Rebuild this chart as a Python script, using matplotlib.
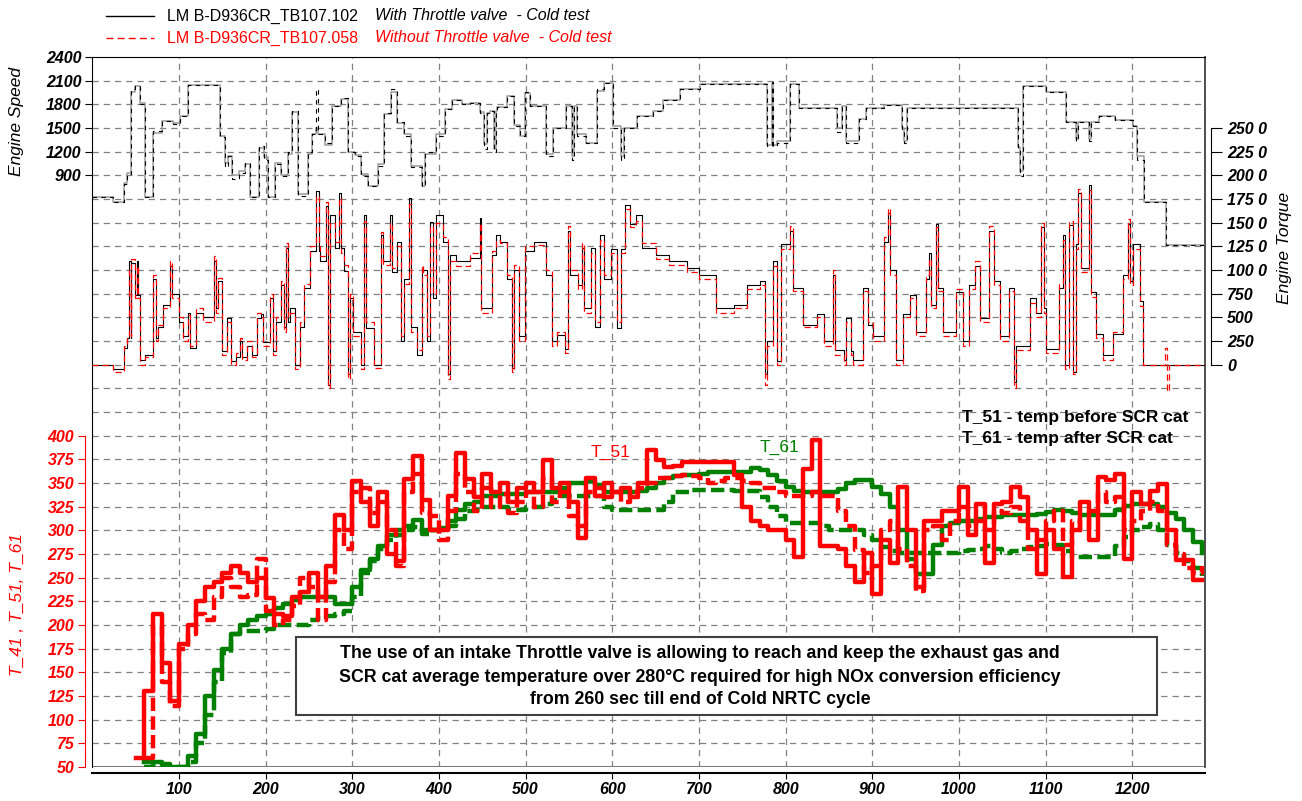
import matplotlib
matplotlib.use('Agg')
import matplotlib.pyplot as plt
import numpy as np
from matplotlib.patches import Rectangle

plt.rcParams['font.family'] = ['Liberation Sans', 'DejaVu Sans']

nan = np.nan

# ---- temperatures, one value every 10 s (0 .. 1280 s) ----
temp_t = list(range(0, 1281, 10))

t51_with = [nan, nan, nan, nan, nan, 60, 130, 212, 160, 120,
            180, 200, 225, 240, 245, 255, 262, 255, 245, 250,
            228, 212, 210, 230, 235, 255, 230, 262, 316, 300,
            352, 330, 305, 340, 275, 268, 354, 378, 332, 300,
            300, 336, 382, 354, 335, 360, 340, 350, 330, 345,
            350, 340, 374, 345, 350, 330, 292, 355, 336, 350,
            340, 345, 335, 350, 385, 374, 367, 368, 372, 372,
            372, 372, 372, 372, 358, 325, 310, 305, 300, 300,
            290, 272, 365, 395, 283, 283, 280, 262, 245, 276,
            233, 290, 265, 346, 300, 240, 310, 310, 320, 320,
            346, 295, 328, 265, 328, 330, 346, 335, 300, 254,
            300, 280, 251, 300, 330, 290, 356, 353, 360, 270,
            340, 328, 342, 349, 300, 269, 269, 248, 248]

t51_without = [nan, nan, nan, nan, nan, nan, 60, 200, 140, 114,
               175, 190, 212, 205, 230, 250, 240, 230, 232, 270,
               215, 200, 205, 220, 250, 240, 205, 245, 300, 280,
               340, 345, 318, 330, 300, 262, 340, 360, 318, 315,
               290, 320, 360, 340, 320, 345, 325, 338, 318, 330,
               340, 325, 355, 330, 340, 315, 305, 340, 345, 335,
               340, 330, 340, 345, 350, 355, 355, 357, 358, 357,
               355, 350, 352, 355, 355, 352, 350, 345, 345, 340,
               336, 336, 336, 340, 336, 336, 320, 305, 279, 255,
               262, 300, 310, 280, 262, 236, 300, 305, 290, 310,
               325, 305, 310, 300, 320, 318, 325, 310, 280, 290,
               310, 320, 285, 310, 300, 320, 340, 330, 335, 300,
               310, 320, 330, 320, 285, 275, 260, 255, 262]

t61_with = [nan, nan, nan, nan, nan, nan, 55, 55, 53, 50,
            50, 62, 85, 125, 152, 175, 190, 200, 205, 210,
            212, 218, 222, 226, 230, 230, 230, 230, 222, 222,
            240, 258, 270, 283, 295, 300, 305, 311, 300, 300,
            302, 310, 322, 328, 330, 336, 336, 338, 338, 338,
            340, 340, 340, 340, 345, 350, 350, 352, 348, 340,
            340, 340, 340, 342, 345, 350, 355, 357, 358, 358,
            360, 362, 362, 362, 362, 362, 366, 364, 358, 352,
            346, 342, 340, 340, 340, 340, 344, 350, 353, 353,
            346, 338, 325, 300, 270, 254, 254, 285, 305, 308,
            310, 310, 312, 314, 314, 316, 316, 316, 316, 317,
            319, 321, 320, 318, 316, 316, 316, 316, 321, 326,
            328, 328, 328, 325, 318, 312, 300, 288, 276]

t61_without = [nan, nan, nan, nan, nan, nan, 50, 52, 50, 50,
               50, 55, 75, 105, 140, 170, 190, 194, 194, 194,
               196, 200, 200, 200, 200, 205, 210, 210, 212, 215,
               230, 255, 268, 280, 290, 295, 300, 303, 296, 300,
               300, 305, 312, 320, 322, 325, 325, 325, 322, 322,
               325, 325, 328, 332, 336, 336, 336, 336, 336, 325,
               322, 322, 322, 322, 322, 322, 330, 340, 340, 343,
               343, 343, 343, 343, 342, 342, 342, 335, 325, 315,
               308, 308, 308, 308, 305, 300, 300, 300, 300, 295,
               290, 282, 278, 276, 276, 276, 276, 276, 276, 276,
               278, 279, 280, 283, 280, 276, 278, 280, 282, 283,
               286, 284, 278, 272, 272, 272, 272, 272, 283, 293,
               300, 303, 307, 300, 285, 276, 268, 260, 252]

# ---- engine speed, change points ----
speed_t = [0, 24, 36, 40, 45, 49, 55, 61, 70, 80,
           93, 101, 110, 147, 153, 157, 161, 169, 176, 182,
           192, 198, 203, 211, 218, 226, 230, 237, 249, 253,
           258, 260, 268, 276, 287, 295, 303, 310, 318, 330,
           337, 345, 352, 360, 368, 380, 384, 396, 407, 415,
           426, 436, 447, 452, 455, 459, 463, 466, 467, 478,
           486, 493, 499, 505, 524, 532, 547, 553, 556, 559,
           570, 582, 590, 601, 610, 613, 628, 647, 659, 678,
           701, 778, 784, 786, 790, 805, 816, 859, 865, 870,
           885, 893, 913, 934, 937, 940, 1068, 1071, 1074, 1100,
           1124, 1135, 1138, 1150, 1153, 1162, 1180, 1201, 1205, 1214,
           1239, 1284]

speed_with = [620, 560, 790, 915, 1990, 2030, 1800, 620, 1460, 1590,
              1550, 1650, 2040, 1380, 1000, 1150, 850, 930, 1060, 620,
              1270, 1100, 620, 1040, 890, 1190, 1715, 640, 1190, 1420,
              1990, 1420, 1310, 1780, 1885, 1190, 1145, 890, 765, 1020,
              1695, 1990, 1570, 1400, 1000, 765, 1190, 1400, 1740, 1860,
              1800, 1820, 1695, 1230, 1695, 1715, 1190, 1715, 1760, 1905,
              1525, 1400, 1950, 1780, 1145, 1505, 1780, 1100, 1780, 1400,
              1314, 1990, 2075, 1505, 1100, 1505, 1650, 1715, 1860, 1990,
              2055, 1270, 2080, 1270, 1314, 2055, 1750, 1450, 1780, 1314,
              1610, 1750, 1790, 1480, 1314, 1750, 1230, 890, 2030, 1950,
              1570, 1335, 1570, 1335, 1570, 1650, 1600, 1525, 1100, 560,
              20, 20]

speed_without = [620, 560, 800, 930, 1960, 2030, 1820, 620, 1440, 1590,
                 1560, 1650, 2040, 1400, 1060, 1150, 900, 950, 1040, 620,
                 1250, 1130, 620, 1060, 900, 1170, 1700, 660, 1170, 1420,
                 1500, 1420, 1290, 1780, 1870, 1200, 1160, 920, 765, 1040,
                 1680, 1960, 1560, 1420, 1020, 765, 1170, 1420, 1740, 1860,
                 1800, 1820, 1700, 1300, 1695, 1715, 1230, 1715, 1760, 1900,
                 1540, 1400, 1940, 1780, 1170, 1505, 1780, 1150, 1780, 1420,
                 1314, 1970, 2075, 1520, 1150, 1505, 1650, 1715, 1860, 1990,
                 2055, 1290, 2055, 1290, 1330, 2055, 1750, 1500, 1780, 1330,
                 1610, 1750, 1790, 1500, 1330, 1750, 1260, 950, 2030, 1950,
                 1570, 1360, 1570, 1360, 1570, 1650, 1600, 1525, 1150, 560,
                 20, 20]

# ---- engine torque, change points ----
torque_t = [0, 24, 36, 40, 42, 44, 45, 49, 52, 53,
            55, 61, 70, 73, 76, 82, 90, 92, 100, 105,
            110, 113, 120, 128, 140, 143, 145, 150, 155, 160,
            166, 170, 173, 178, 184, 190, 194, 197, 205, 208,
            212, 218, 221, 224, 226, 228, 234, 240, 244, 251,
            258, 261, 263, 270, 272, 274, 280, 285, 287, 290,
            295, 297, 301, 310, 314, 316, 325, 333, 335, 343,
            346, 351, 356, 360, 365, 368, 375, 380, 382, 386,
            390, 393, 397, 405, 410, 413, 420, 436, 447, 449,
            461, 466, 470, 478, 484, 486, 492, 499, 510, 524,
            530, 536, 545, 549, 551, 560, 565, 567, 575, 580,
            586, 590, 599, 605, 610, 615, 620, 627, 634, 650,
            665, 686, 700, 720, 740, 755, 771, 776, 778, 786,
            790, 795, 805, 809, 820, 836, 844, 855, 857, 867,
            870, 875, 878, 889, 895, 901, 913, 918, 920, 927,
            935, 943, 951, 962, 965, 968, 974, 976, 982, 997,
            1005, 1012, 1018, 1024, 1035, 1040, 1047, 1058, 1064, 1066,
            1082, 1089, 1095, 1098, 1101, 1116, 1120, 1123, 1127, 1132,
            1135, 1138, 1141, 1150, 1152, 1158, 1166, 1178, 1189, 1195,
            1198, 1201, 1209, 1212, 1238, 1240, 1242, 1284]

torque_with = [0, -5, 18, 28, 109, 28, 107, 74, 109, 74,
               5, 10, 90, 28, 40, 63, 104, 75, 45, 30,
               55, 18, 55, 50, 109, 60, 88, 14, 49, 4,
               8, 25, 8, 20, 10, 49, 53, 24, 70, 14,
               45, 84, 40, 123, 45, 60, 0, 40, 81, 120,
               183, 120, 109, 168, -21, 158, 123, 181, 123, 99,
               -10, 70, 35, 0, 158, 39, 0, 137, 110, 158,
               98, 130, 25, 90, 176, 40, 10, 98, 100, 25,
               151, 70, 158, 130, -10, 116, 109, 113, 155, 60,
               116, 137, 130, 91, -3, 100, 30, 120, 130, 95,
               25, 31, 17, 141, 95, 84, 123, 60, 123, 40,
               137, 90, 122, 39, 122, 169, 149, 158, 123, 116,
               109, 102, 95, 60, 63, 84, 88, -10, 25, 109,
               4, 127, 141, 81, 42, 53, 25, 95, 15, 5,
               49, 14, 5, 81, 42, 30, 130, 160, 100, 5,
               53, 74, 35, 91, 118, 63, 149, 81, 35, 77,
               25, 84, 104, 49, 141, 88, 30, 81, -18, 20,
               70, 55, 145, 60, 17, 81, 137, 0, 148, -8,
               127, 181, 102, 190, 77, 32, 10, 32, 95, 149,
               88, 127, 67, 0, 0, 0, 0, 0]

torque_without = [0, -8, 20, 30, 100, 30, 112, 70, 104, 70,
                  0, 8, 95, 25, 42, 60, 110, 70, 50, 25,
                  52, 20, 60, 45, 115, 55, 92, 10, 45, 0,
                  12, 28, 5, 25, 8, 55, 50, 20, 75, 10,
                  50, 88, 35, 128, 50, 55, -5, 45, 85, 125,
                  178, 125, 115, 172, -25, 150, 130, 176, 118, 105,
                  -15, 75, 30, -5, 152, 45, -3, 140, 105, 150,
                  102, 125, 30, 85, 170, 35, 15, 105, 95, 30,
                  146, 75, 150, 135, -15, 110, 104, 118, 150, 55,
                  120, 132, 128, 95, -8, 105, 25, 125, 126, 100,
                  20, 35, 12, 146, 100, 80, 128, 55, 118, 45,
                  132, 95, 118, 45, 118, 164, 145, 152, 128, 112,
                  105, 98, 90, 55, 60, 80, 84, -22, 20, 104,
                  0, 122, 146, 78, 40, 50, 20, 100, 10, 0,
                  45, 10, 0, 78, 45, 25, 135, 165, 95, 0,
                  50, 70, 30, 95, 112, 60, 145, 78, 30, 80,
                  20, 80, 110, 45, 146, 84, 25, 78, -25, 15,
                  65, 50, 150, 55, 12, 85, 132, -5, 152, -10,
                  122, 186, 98, 185, 72, 28, 5, 35, 90, 154,
                  84, 122, 62, 0, 18, -28, 0, 0]

# tick labels
x_ticks = [100, 200, 300, 400, 500, 600, 700, 800, 900, 1000, 1100, 1200]
temp_ticks = [50, 75, 100, 125, 150, 175, 200, 225, 250, 275, 300, 325, 350, 375, 400]
speed_ticks = [900, 1200, 1500, 1800, 2100, 2400]
torque_ticks = [0, 25, 50, 75, 100, 125, 150, 175, 200, 225, 250]
torque_labels = ['0', '250', '500', '750', '100 0', '125 0', '150 0',
                 '175 0', '200 0', '225 0', '250 0']

W, H = 1302, 801
fig = plt.figure(figsize=(W / 100, H / 100), dpi=100)
pos = [92.4 / W, 34 / H, (1205 - 92.4) / W, (767 - 57) / H]

tick_font = dict(fontsize=11.5, fontweight='bold', fontstyle='italic')
grid_col = '#808080'

# --- temperature axes (bottom layer, carries the grid) ---
ax = fig.add_axes(pos)
ax.set_xlim(0, 1284)
ax.set_ylim(50, 800)
for y in range(75, 800, 25):
    ax.axhline(y, color=grid_col, lw=0.9, ls=(0, (5, 4)), zorder=0)
for x in x_ticks:
    ax.axvline(x, color=grid_col, lw=0.9, ls=(0, (5, 4)), zorder=0)
ax.axhline(50, color='#7a7a7a', lw=2.2, zorder=1)

ax.step(temp_t, t61_without, where='post', color='#008000', lw=3.2,
        ls=(0, (3, 1.2)), zorder=3)
ax.step(temp_t, t61_with, where='post', color='#008000', lw=3.2, zorder=3)
ax.step(temp_t, t51_without, where='post', color='#ff0000', lw=3.2,
        ls=(0, (3, 1.2)), zorder=4)
ax.step(temp_t, t51_with, where='post', color='#ff0000', lw=3.2, zorder=4)

ax.spines['left'].set_position(('outward', 5))
ax.spines['left'].set_bounds(50, 400)
ax.spines['left'].set_color('#ff0000')
ax.spines['top'].set_color('black')
ax.spines['right'].set_color('#404040')
ax.spines['right'].set_linewidth(1.3)
ax.spines['bottom'].set_position(('outward', 4))
ax.spines['bottom'].set_linewidth(1.5)
ax.set_yticks(temp_ticks)
ax.set_yticklabels([str(v) for v in temp_ticks], color='#ff0000', **tick_font)
ax.tick_params(axis='y', colors='#ff0000', length=5, pad=3)
ax.set_xticks(x_ticks)
ax.set_xticklabels([str(v) for v in x_ticks], **tick_font)
ax.tick_params(axis='x', length=4, pad=3)

# --- engine speed axes ---
ax_s = fig.add_axes(pos, sharex=ax)
ax_s.patch.set_visible(False)
ax_s.set_ylim(-6600, 2400)
ax_s.step(speed_t, speed_without, where='post', color='#9a9a9a', lw=1.1)
ax_s.step(speed_t, speed_with, where='post', color='black', lw=0.8,
          ls=(0, (4, 4)))
for s in ['top', 'right', 'bottom']:
    ax_s.spines[s].set_visible(False)
ax_s.spines['left'].set_color('black')
ax_s.set_yticks(speed_ticks)
ax_s.set_yticklabels([str(v) for v in speed_ticks], **tick_font)
ax_s.tick_params(axis='y', length=5, pad=3)
ax_s.tick_params(axis='x', bottom=False, labelbottom=False)

# --- engine torque axes ---
ax_q = fig.add_axes(pos, sharex=ax)
ax_q.patch.set_visible(False)
ax_q.set_ylim(-425, 325)
ax_q.step(torque_t, torque_with, where='post', color='black', lw=0.8)
ax_q.step(torque_t, torque_without, where='post', color='#ff0000', lw=0.9,
          ls=(0, (5, 3)))
for s in ['top', 'left', 'bottom']:
    ax_q.spines[s].set_visible(False)
ax_q.spines['right'].set_position(('outward', 4))
ax_q.spines['right'].set_bounds(0, 250)
ax_q.yaxis.tick_right()
ax_q.set_yticks(torque_ticks)
ax_q.set_yticklabels(torque_labels, **tick_font)
ax_q.tick_params(axis='y', length=8, pad=4)
ax_q.tick_params(axis='x', bottom=False, labelbottom=False)


def fx(px):
    return px / W


def fy(py):
    return 1 - py / H


# axis titles
fig.text(fx(17), fy(122), 'Engine Speed', rotation=90, ha='center', va='center',
         fontsize=12.5, fontstyle='italic')
fig.text(fx(1285), fy(248), 'Engine Torque', rotation=90, ha='center', va='center',
         fontsize=12.5, fontstyle='italic')
fig.text(fx(17), fy(605), 'T_41 , T_51, T_61', rotation=90, ha='center',
         va='center', fontsize=12.5, fontstyle='italic', color='#ff0000')

# legend at the top
fig.add_artist(plt.Line2D([fx(106), fx(154)], [fy(16), fy(16)], color='black', lw=1))
fig.add_artist(plt.Line2D([fx(106), fx(154)], [fy(38), fy(38)], color='#ff0000',
                          lw=1, ls=(0, (5, 3))))
fig.text(fx(167), fy(16), 'LM B-D936CR_TB107.102', va='center', fontsize=11.5)
fig.text(fx(375), fy(16), 'With Throttle valve  - Cold test', va='center',
         fontsize=11.5, fontstyle='italic')
fig.text(fx(167), fy(38), 'LM B-D936CR_TB107.058', va='center', fontsize=11.5,
         color='#ff0000')
fig.text(fx(375), fy(38), 'Without Throttle valve  - Cold test', va='center',
         fontsize=11.5, fontstyle='italic', color='#ff0000')

# notes
fig.text(fx(962), fy(417), 'T_51 - temp before SCR cat', va='center',
         fontsize=12.5, fontweight='bold')
fig.text(fx(962), fy(438), 'T_61 - temp after SCR cat', va='center',
         fontsize=12.5, fontweight='bold')
fig.text(fx(611), fy(452), 'T_51', ha='center', va='center', fontsize=12.5,
         color='#ff0000')
fig.text(fx(780), fy(447), 'T_61', ha='center', va='center', fontsize=12.5,
         color='#008000')

box = Rectangle((fx(296), fy(715)), fx(1157) - fx(296), fy(637) - fy(715),
                transform=fig.transFigure, facecolor='white',
                edgecolor='#404040', lw=1.5, zorder=5)
fig.add_artist(box)
note = ['The use of an intake Throttle valve is allowing to reach and keep the exhaust gas and',
        'SCR cat average temperature over 280\u00b0C required for high NOx conversion efficiency',
        'from 260 sec till end of Cold NRTC cycle']
for line, py in zip(note, [653, 678, 700]):
    fig.text(fx(700), fy(py), line, ha='center', va='center', fontsize=12.8,
             fontweight='bold', zorder=6)

fig.savefig('out.png', dpi=100)
